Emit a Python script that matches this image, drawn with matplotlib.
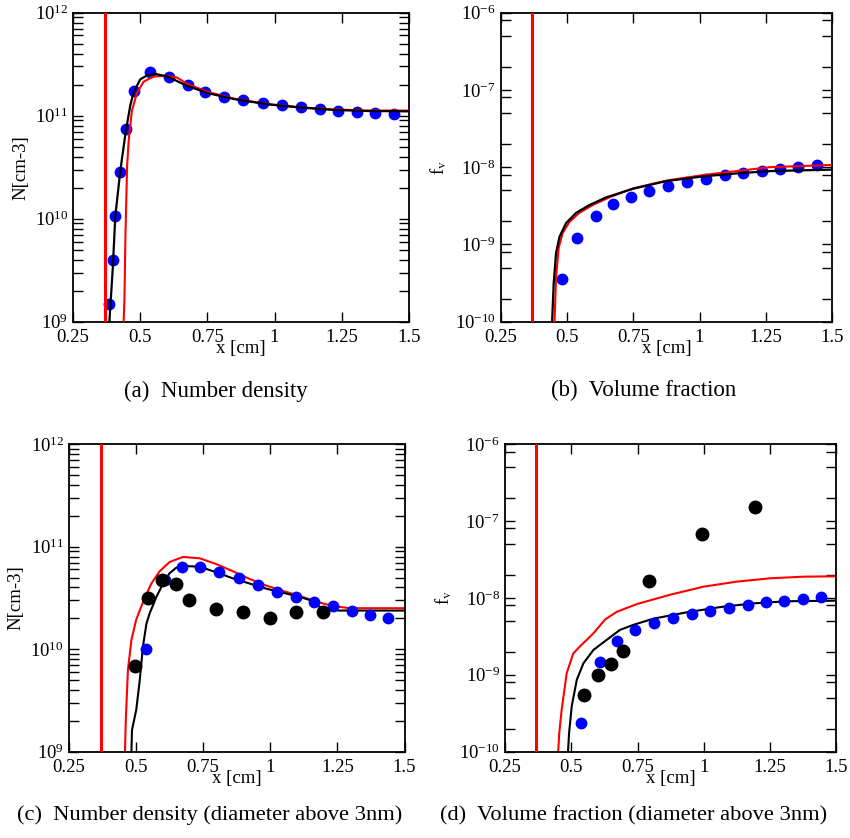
import matplotlib
matplotlib.use('Agg')
import matplotlib.pyplot as plt
from matplotlib.ticker import LogLocator, FixedLocator, FixedFormatter, NullFormatter

plt.rcParams['font.family'] = ['Liberation Serif', 'DejaVu Serif']
plt.rcParams['mathtext.fontset'] = 'stix'

# x axis
x_ticks = [0.25, 0.5, 0.75, 1.0, 1.25, 1.5]
x_tick_labels = ['0.25', '0.5', '0.75', '1', '1.25', '1.5']

# (a) number density
a_wall = 0.37
a_dots_x = [0.383, 0.398, 0.407, 0.426, 0.446, 0.478, 0.538, 0.608, 0.677, 0.742, 0.813,
            0.884, 0.956, 1.028, 1.097, 1.168, 1.237, 1.307, 1.375, 1.443]
a_dots_y = [1.48e9, 4.0e9, 1.06e10, 2.86e10, 7.4e10, 1.75e11, 2.67e11, 2.36e11, 1.99e11, 1.71e11,
            1.53e11, 1.42e11, 1.32e11, 1.26e11, 1.21e11, 1.16e11, 1.12e11, 1.09e11, 1.05e11, 1.03e11]
a_black_x = [0.383, 0.385, 0.398, 0.407, 0.426, 0.446, 0.463, 0.476, 0.50, 0.525, 0.556, 0.60,
             0.674, 0.749, 0.848, 0.972, 1.096, 1.22, 1.344, 1.5]
a_black_y = [7.9e8, 1.0e9, 3.4e9, 1.05e10, 2.95e10, 7.0e10, 1.26e11, 1.7e11, 2.25e11, 2.45e11,
             2.54e11, 2.4e11, 1.95e11, 1.66e11, 1.45e11, 1.29e11, 1.2e11, 1.135e11, 1.11e11, 1.10e11]
a_red_x = [0.436, 0.438, 0.441, 0.445, 0.451, 0.457, 0.469, 0.488, 0.513, 0.55, 0.60, 0.637,
           0.674, 0.75, 0.85, 0.97, 1.10, 1.22, 1.35, 1.5]
a_red_y = [8e8, 1e9, 1.6e9, 7.2e9, 3.2e10, 5.75e10, 1.12e11, 1.66e11, 2.14e11, 2.4e11, 2.43e11,
           2.34e11, 2.04e11, 1.7e11, 1.46e11, 1.3e11, 1.2e11, 1.15e11, 1.12e11, 1.12e11]

# (b) volume fraction
b_wall = 0.368
b_dots_x = [0.480, 0.537, 0.608, 0.673, 0.740, 0.811, 0.882, 0.954, 1.024, 1.095, 1.165,
            1.236, 1.305, 1.372, 1.441]
b_dots_y = [3.54e-10, 1.23e-9, 2.35e-9, 3.3e-9, 4.14e-9, 4.95e-9, 5.75e-9, 6.36e-9, 7.1e-9,
            7.84e-9, 8.3e-9, 8.83e-9, 9.46e-9, 1.0e-8, 1.06e-8]
b_black_x = [0.443, 0.444, 0.450, 0.459, 0.472, 0.497, 0.535, 0.585, 0.648, 0.748, 0.874,
             1.013, 1.139, 1.265, 1.5]
b_black_y = [8e-11, 1e-10, 3.16e-10, 7.8e-10, 1.26e-9, 1.9e-9, 2.57e-9, 3.24e-9, 4.07e-9,
             5.25e-9, 6.6e-9, 7.6e-9, 8.3e-9, 8.9e-9, 9.3e-9]
b_red_x = [0.452, 0.453, 0.459, 0.469, 0.484, 0.509, 0.547, 0.597, 0.66, 0.748, 0.874, 1.013,
           1.139, 1.265, 1.5]
b_red_y = [8e-11, 1e-10, 3.8e-10, 9.1e-10, 1.41e-9, 1.95e-9, 2.57e-9, 3.24e-9, 4.07e-9,
           5.3e-9, 6.7e-9, 7.9e-9, 8.9e-9, 1.0e-8, 1.07e-8]

# (c) number density, diameter above 3nm
c_wall = 0.369
c_blue_x = [0.536, 0.607, 0.672, 0.739, 0.810, 0.882, 0.954, 1.026, 1.095, 1.164, 1.235,
            1.303, 1.371, 1.439]
c_blue_y = [1.0e10, 4.7e10, 6.4e10, 6.4e10, 5.67e10, 4.9e10, 4.24e10, 3.65e10, 3.24e10,
            2.89e10, 2.62e10, 2.36e10, 2.16e10, 2.03e10]
c_exp_x = [0.495, 0.545, 0.597, 0.648, 0.697, 0.799, 0.900, 1.0, 1.095, 1.196]
c_exp_y = [6.78e9, 3.14e10, 4.73e10, 4.3e10, 3.03e10, 2.49e10, 2.28e10, 2.02e10, 2.33e10, 2.29e10]
c_red_x = [0.458, 0.459, 0.462, 0.47, 0.483, 0.501, 0.526, 0.557, 0.588, 0.625, 0.675, 0.737,
           0.799, 0.861, 0.923, 0.985, 1.047, 1.109, 1.17, 1.232, 1.294, 1.5]
c_red_y = [7.9e8, 1e9, 2.04e9, 6.3e9, 1.23e10, 1.95e10, 2.88e10, 4.37e10, 5.75e10, 7.08e10,
           7.94e10, 7.7e10, 6.76e10, 5.75e10, 4.84e10, 4.17e10, 3.7e10, 3.31e10, 2.91e10,
           2.64e10, 2.51e10, 2.51e10]
c_black_x = [0.482, 0.483, 0.485, 0.493, 0.501, 0.514, 0.526, 0.539, 0.551, 0.576, 0.601,
             0.625, 0.65, 0.687, 0.737, 0.799, 0.861, 0.923, 0.985, 1.047, 1.109, 1.146, 1.17,
             1.208, 1.257, 1.5]
c_black_y = [7.9e8, 1e9, 1.62e9, 2.04e9, 2.57e9, 5.0e9, 1.07e10, 1.78e10, 2.24e10, 3.24e10,
             4.37e10, 5.5e10, 6.24e10, 6.46e10, 6.38e10, 5.62e10, 4.9e10, 4.37e10, 3.89e10,
             3.55e10, 3.24e10, 3.02e10, 2.69e10, 2.45e10, 2.38e10, 2.38e10]

# (d) volume fraction, diameter above 3nm
d_wall = 0.368
d_blue_x = [0.536, 0.608, 0.672, 0.741, 0.811, 0.883, 0.954, 1.024, 1.095, 1.165, 1.234,
            1.304, 1.373, 1.441]
d_blue_y = [2.35e-10, 1.46e-9, 2.73e-9, 3.8e-9, 4.69e-9, 5.5e-9, 6.2e-9, 6.78e-9, 7.48e-9,
            8.1e-9, 8.78e-9, 9.23e-9, 9.8e-9, 1.03e-8]
d_exp_x = [0.548, 0.600, 0.649, 0.696, 0.795, 0.994, 1.193]
d_exp_y = [5.45e-10, 9.9e-10, 1.39e-9, 2.03e-9, 1.68e-8, 6.7e-8, 1.5e-7]
d_red_x = [0.450, 0.451, 0.455, 0.464, 0.483, 0.508, 0.533, 0.584, 0.628, 0.672, 0.747,
           0.873, 0.999, 1.125, 1.251, 1.377, 1.5]
d_red_y = [8e-11, 1e-10, 1.75e-10, 3.5e-10, 1.05e-9, 1.9e-9, 2.34e-9, 3.47e-9, 5.25e-9,
           6.6e-9, 8.3e-9, 1.1e-8, 1.4e-8, 1.63e-8, 1.8e-8, 1.89e-8, 1.91e-8]
d_black_x = [0.487, 0.488, 0.492, 0.502, 0.521, 0.546, 0.584, 0.634, 0.684, 0.735, 0.81,
             0.936, 1.062, 1.188, 1.314, 1.5]
d_black_y = [8e-11, 1e-10, 1.75e-10, 3.9e-10, 8.6e-10, 1.41e-9, 2.11e-9, 2.85e-9, 3.84e-9,
             4.47e-9, 5.37e-9, 6.5e-9, 7.6e-9, 8.5e-9, 9.05e-9, 9.2e-9]

captions = ['(a)  Number density', '(b)  Volume fraction',
            '(c)  Number density (diameter above 3nm)', '(d)  Volume fraction (diameter above 3nm)']

fig = plt.figure(figsize=(8.5, 8.38), dpi=100)
ax_a = fig.add_axes([0.086, 0.616, 0.395, 0.369])
ax_b = fig.add_axes([0.589, 0.616, 0.390, 0.369])
ax_c = fig.add_axes([0.081, 0.103, 0.395, 0.367])
ax_d = fig.add_axes([0.594, 0.103, 0.390, 0.367])


def style(ax, ylim, subs, ylabel):
    ax.set_yscale('log')
    ax.set_xlim(0.25, 1.5)
    ax.set_ylim(*ylim)
    ax.xaxis.set_major_locator(FixedLocator(x_ticks))
    ax.xaxis.set_major_formatter(FixedFormatter(x_tick_labels))
    ax.yaxis.set_major_locator(LogLocator(base=10, numticks=10))
    ax.yaxis.set_minor_locator(LogLocator(base=10, subs=subs, numticks=10))
    ax.yaxis.set_minor_formatter(NullFormatter())
    ax.tick_params(which='both', direction='in', top=True, right=True,
                   length=7, width=1, labelsize=13.5)
    ax.tick_params(axis='x', pad=5)
    for s in ax.spines.values():
        s.set_linewidth(1.3)
    ax.set_xlabel('x [cm]', fontsize=13.5, labelpad=-4)
    ax.set_ylabel(ylabel, fontsize=13.5)


n_subs = [2, 3, 4, 5, 6, 7, 8, 9]
f_subs = [2, 5, 8]

ax_a.axvline(a_wall, color='red', lw=2.2, zorder=3)
ax_a.plot(a_dots_x, a_dots_y, 'o', color='blue', ms=7.5, zorder=2)
ax_a.plot(a_red_x, a_red_y, color='red', lw=1.5, zorder=3)
ax_a.plot(a_black_x, a_black_y, color='black', lw=1.6, zorder=4)
style(ax_a, (1e9, 1e12), n_subs, 'N[cm-3]')

ax_b.axvline(b_wall, color='red', lw=2.2, zorder=3)
ax_b.plot(b_dots_x, b_dots_y, 'o', color='blue', ms=7.5, zorder=2)
ax_b.plot(b_red_x, b_red_y, color='red', lw=1.5, zorder=3)
ax_b.plot(b_black_x, b_black_y, color='black', lw=1.6, zorder=4)
style(ax_b, (1e-10, 1e-6), f_subs, r'f$_\mathrm{v}$')

ax_c.axvline(c_wall, color='red', lw=2.2, zorder=3)
ax_c.plot(c_red_x, c_red_y, color='red', lw=1.5, zorder=2)
ax_c.plot(c_black_x, c_black_y, color='black', lw=1.5, zorder=2)
ax_c.plot(c_blue_x, c_blue_y, 'o', color='blue', ms=7.5, zorder=3)
ax_c.plot(c_exp_x, c_exp_y, 'o', color='black', ms=9, zorder=4)
style(ax_c, (1e9, 1e12), n_subs, 'N[cm-3]')

ax_d.axvline(d_wall, color='red', lw=2.2, zorder=3)
ax_d.plot(d_red_x, d_red_y, color='red', lw=1.5, zorder=2)
ax_d.plot(d_black_x, d_black_y, color='black', lw=1.5, zorder=2)
ax_d.plot(d_blue_x, d_blue_y, 'o', color='blue', ms=7.5, zorder=3)
ax_d.plot(d_exp_x, d_exp_y, 'o', color='black', ms=9, zorder=4)
style(ax_d, (1e-10, 1e-6), f_subs, r'f$_\mathrm{v}$')

fig.text(0.254, 0.5335, captions[0], ha='center', va='center', fontsize=16.5)
fig.text(0.757, 0.5335, captions[1], ha='center', va='center', fontsize=16.5)
fig.text(0.247, 0.027, captions[2], ha='center', va='center', fontsize=16.2)
fig.text(0.745, 0.027, captions[3], ha='center', va='center', fontsize=16.2)

fig.savefig('out.png', dpi=100)
